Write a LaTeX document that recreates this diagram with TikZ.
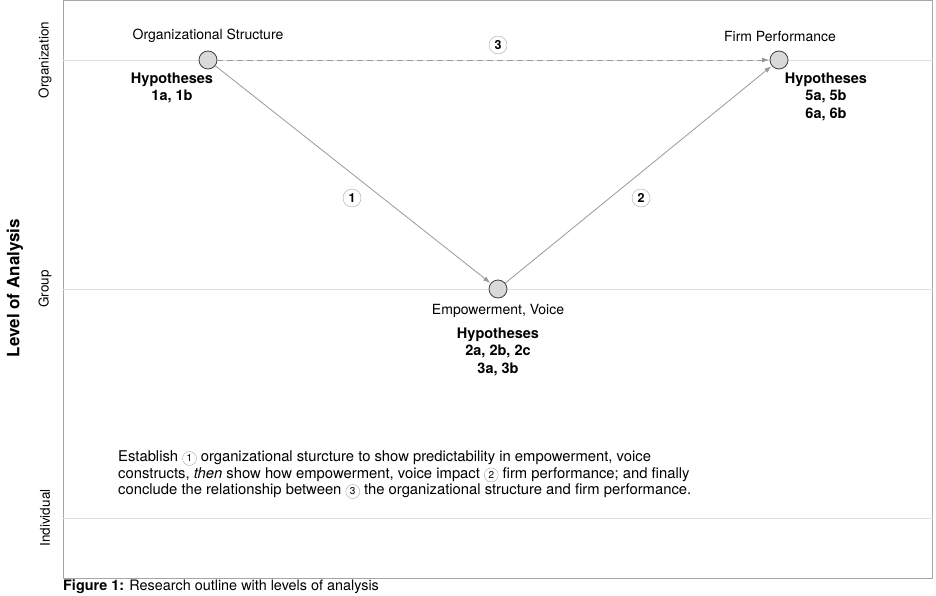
\documentclass[tikz,border=0pt]{standalone}
\usepackage{fontspec}
\setmainfont{TeX Gyre Heros}
\usetikzlibrary{arrows.meta}

\newcommand{\circnum}[1]{\tikz[baseline=(c.base)]\node[circle,draw=gray!70,inner sep=0.6pt,minimum size=14pt,font=\fontsize{10}{10}\selectfont] (c) {#1};}

\begin{document}
\begin{tikzpicture}[x=1pt, y=-1pt, >={Latex[length=7pt,width=5pt]}, line join=round,
  font=\fontsize{14}{17}\selectfont,
  construct/.style={circle,draw=black!75,fill=gray!30,line width=0.8pt,minimum size=18pt,inner sep=0pt},
  link/.style={->,gray!80,line width=0.8pt,shorten >=0.5pt},
  numbadge/.style={circle,draw=gray!70,fill=white,inner sep=0.6pt,minimum size=18pt,font=\fontsize{12.5}{12.5}\selectfont\bfseries},
  levelline/.style={gray!25,line width=0.8pt},
  hyp/.style={align=center,font=\fontsize{14.5}{17.5}\selectfont\bfseries}]
  \useasboundingbox (0,0) rectangle (936,596);
  % frame and levels
  \draw[gray!70,line width=1pt] (63,0.5) rectangle (932.5,578);
  \draw[levelline] (63,60) -- (932.5,60);
  \draw[levelline] (63,289) -- (932.5,289);
  \draw[levelline] (63,518) -- (932.5,518);
  \node[rotate=90,font=\fontsize{13.5}{16}\selectfont] (lorg) at (45,60) {Organization};
  \node[rotate=90,font=\fontsize{13.5}{16}\selectfont] (lgrp) at (45,289) {Group};
  \node[rotate=90,font=\fontsize{13.5}{16}\selectfont] (lind) at (45,518) {Individual};
  \node[rotate=90,font=\fontsize{17}{17}\selectfont\bfseries] (axis) at (15,288) {Level of Analysis};
  % constructs
  \node[construct] (org) at (208,60) {};
  \node[construct] (firm) at (779,60) {};
  \node[construct] (emp) at (498,289) {};
  \draw[link,dashed,dash pattern=on 6pt off 4pt] (org) -- (firm);
  \draw[link] (org) -- (emp);
  \draw[link] (emp) -- (firm);
  \node[numbadge] (n3) at (498,45) {3};
  \node[numbadge] (n1) at (352,198) {1};
  \node[numbadge] (n2) at (641,198) {2};
  % labels
  \node (orgname) at (208,36) {Organizational Structure};
  \node (firmname) at (780,36) {Firm Performance};
  \node (empname) at (498,311) {Empowerment, Voice};
  \node[hyp] (orghyp) at (172,88) {Hypotheses\\1a, 1b};
  \node[hyp] (firmhyp) at (826,96.5) {Hypotheses\\5a, 5b\\6a, 6b};
  \node[hyp] (emphyp) at (498,351.5) {Hypotheses\\2a, 2b, 2c\\3a, 3b};
  \node[anchor=north west,align=left,inner sep=0pt,font=\fontsize{14.8}{16.5}\selectfont] (note) at (118,451)
    {Establish \circnum{1} organizational sturcture to show predictability in empowerment, voice\\
     constructs, \textit{then} show how empowerment, voice impact \circnum{2} firm performance; and finally\\
     conclude the relationship between \circnum{3} the organizational structure and firm performance.};
  \node[anchor=west,inner sep=0pt,font=\fontsize{14.4}{17}\selectfont] (caption) at (63,587) {\textbf{Figure 1:} Research outline with levels of analysis};
\end{tikzpicture}
\end{document}
